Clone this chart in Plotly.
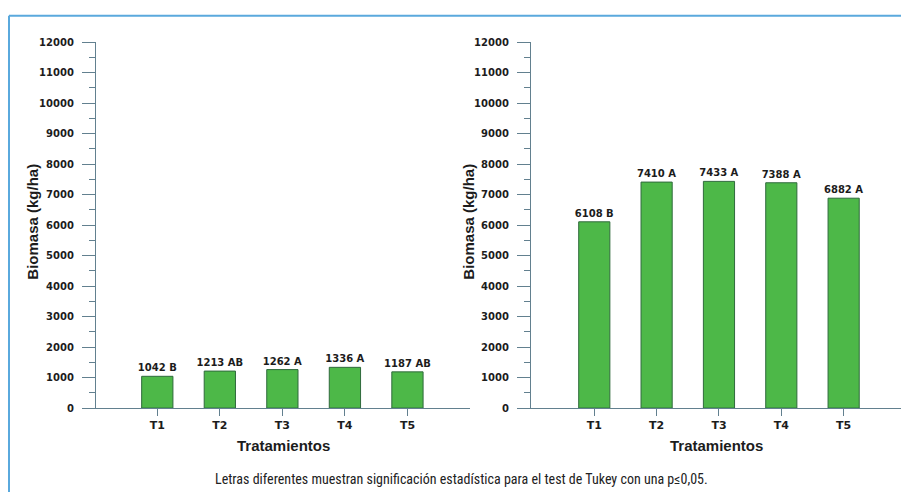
import plotly.graph_objects as go

W, H = 901, 498

categories = ["T1", "T2", "T3", "T4", "T5"]
biomasa_izq = [1042, 1213, 1262, 1336, 1187]
letras_izq = ["B", "AB", "A", "A", "AB"]
biomasa_der = [6108, 7410, 7433, 7388, 6882]
letras_der = ["B", "A", "A", "A", "A"]
y_ticks = list(range(0, 12001, 1000))
y_title = "Biomasa (kg/ha)"
x_title = "Tratamientos"
nota = "Letras diferentes muestran significación estadística para el test de Tukey con una p≤0,05."

BAR = "#4db848"
BAR_LINE = "#2f6a3c"
AX = "#62808f"
TXT = "#1c1c1c"
BORDER = "#5aa9dd"
TICKFONT = dict(family="DejaVu Sans", size=10, color=TXT)

def px_x(p):
    return p / W

def px_y(p):
    return 1 - p / H

fig = go.Figure()

for vals, lets, xa, ya in [(biomasa_izq, letras_izq, "x", "y"), (biomasa_der, letras_der, "x2", "y2")]:
    fig.add_trace(go.Bar(
        x=categories, y=vals,
        text=[f"<b>{v} {l}</b>" for v, l in zip(vals, lets)],
        textposition="outside", cliponaxis=False, constraintext="none",
        textfont=dict(family="DejaVu Sans", size=10, color=TXT),
        marker=dict(color=BAR, line=dict(color=BAR_LINE, width=1)),
        width=0.5, xaxis=xa, yaxis=ya, showlegend=False,
    ))

y_dom = [px_y(412), px_y(37)]

def yaxis(anchor):
    return dict(
        domain=y_dom, range=[0, 12000], anchor=anchor,
        tickvals=y_ticks, ticktext=[f"<b>{t}</b>" for t in y_ticks],
        ticks="outside", ticklen=13, tickwidth=1.2, tickcolor=AX,
        ticklabelstandoff=6,
        showline=True, linecolor=AX, linewidth=1.2,
        showgrid=False, zeroline=False, tickfont=TICKFONT,
        minor=dict(dtick=500, ticks="outside", ticklen=6, tickcolor=AX, tickwidth=1.2, showgrid=False),
        fixedrange=True,
    )

def xaxis(anchor, dom, rng):
    return dict(
        domain=dom, range=rng, anchor=anchor, type="category",
        tickvals=categories, ticktext=[f"<b>{c}</b>" for c in categories],
        ticks="outside", ticklen=7, tickwidth=1.2, tickcolor=AX,
        showline=True, linecolor=AX, linewidth=1.2,
        showgrid=False, zeroline=False,
        tickfont=dict(family="DejaVu Sans", size=11, color=TXT),
        fixedrange=True,
    )

fig.update_layout(
    width=W, height=H,
    margin=dict(l=0, r=0, t=0, b=0),
    paper_bgcolor="white", plot_bgcolor="white",
    bargap=0.5,
    xaxis=xaxis("y", [px_x(96), px_x(470)], [-0.98, 5.0]),
    yaxis=yaxis("x"),
    xaxis2=xaxis("y2", [px_x(531), 1.0], [-1.015, 4.92]),
    yaxis2=yaxis("x2"),
)

annotations = []
for xc, yx in [(283, 33), (716, 469)]:
    annotations.append(dict(
        x=px_x(xc), y=px_y(450), xref="paper", yref="paper",
        text=f"<b>{x_title}</b>", showarrow=False,
        font=dict(family="Liberation Sans, Arial", size=15, color=TXT),
        xanchor="center", yanchor="middle",
    ))
    annotations.append(dict(
        x=px_x(yx), y=px_y(221), xref="paper", yref="paper",
        text=f"<b>{y_title}</b>", showarrow=False, textangle=-90,
        font=dict(family="Liberation Sans, Arial", size=15, color=TXT),
        xanchor="center", yanchor="middle",
    ))
annotations.append(dict(
    x=px_x(461), y=px_y(485), xref="paper", yref="paper",
    text=nota, showarrow=False,
    font=dict(family="Liberation Sans Narrow, Roboto Condensed, Roboto", size=14, color="#222"),
    xanchor="center", yanchor="middle",
))
fig.update_layout(annotations=annotations)

fig.update_layout(shapes=[
    dict(type="line", xref="paper", yref="paper", x0=px_x(9), x1=1.0, y0=px_y(10), y1=px_y(10),
         line=dict(color=BORDER, width=2)),
    dict(type="line", xref="paper", yref="paper", x0=px_x(9), x1=px_x(9), y0=px_y(10), y1=0,
         line=dict(color=BORDER, width=2)),
])

css_fix = (
    "var h=document.documentElement,b=document.body;"
    "h.style.margin='0';h.style.padding='0';h.style.overflow='hidden';"
    "b.style.margin='0';b.style.padding='0';b.style.overflow='hidden';"
)

fig.write_html(
    "out.html",
    config={"displayModeBar": False},
    post_script=css_fix,
)
